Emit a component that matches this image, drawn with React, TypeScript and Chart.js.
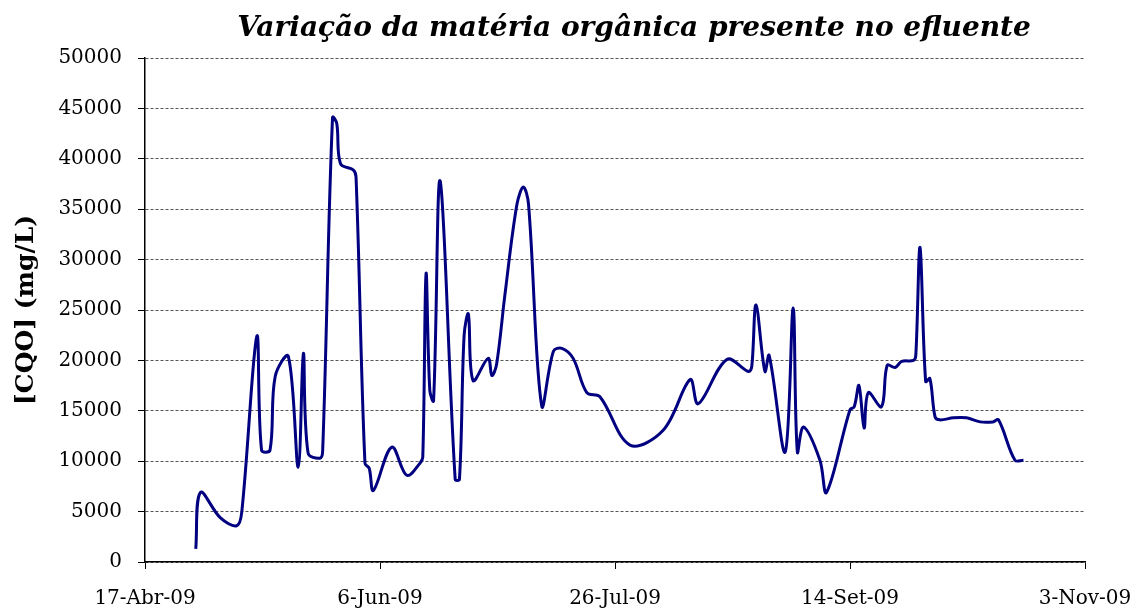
import React, { useEffect, useRef } from "react";
import { Chart, registerables } from "chart.js";

Chart.register(...registerables);

// Days elapsed since 17-Abr-09
const dayOffsets = [
  10.8, 11.8, 16, 19.5, 20.6, 23.8, 24.8, 26.6, 27.7, 30.5, 32.6, 33.7, 34.7, 37.2, 37.8,
  39.9, 40.8, 41.6, 44.3, 44.9, 46.8, 47.7, 48.6, 52.5, 55.7, 58.5, 59.1, 59.8, 60.6, 61.4,
  62.8, 66.0, 66.9, 67.9, 68.8, 69.8, 73.0, 73.8, 74.8, 76.6, 79.1, 80.5, 81.6, 84.4, 86.9,
  88.7, 91.1, 94.0, 96.8, 103.2, 110.3, 116.0, 117.7, 123.8, 128.4, 129.1, 130.0, 131.9, 132.8,
  136.2, 137.9, 138.8, 140.1, 143.6, 145.0, 150.0, 150.9, 151.9, 153.0, 153.9, 156.7, 157.9,
  159.6, 161.0, 163.5, 164.0, 164.9, 166.1, 167.0, 168.1, 169.1, 172.0, 174.8, 177.7, 180.4,
  181.6, 185.1, 186.9,
];

// [CQO] (mg/L)
const cqoValues = [
  1300, 6900, 4400, 3600, 5000, 22400, 11100, 11100, 18400, 20400, 9400, 20700, 10800, 10300, 11000,
  44100, 43500, 39500, 38900, 38200, 9800, 9300, 7100, 11400, 8600, 9800, 10400, 28600, 17000, 16000,
  37800, 8200, 8200, 22500, 24600, 18000, 20200, 18500, 19600, 26600, 35400, 37200, 35500, 15500, 20900,
  21200, 20200, 16800, 16400, 11600, 13100, 18100, 15700, 20100, 18900, 19400, 25500, 18900, 20500,
  10900, 25200, 10900, 13400, 10100, 6900, 15100, 15400, 17500, 13300, 16800, 15400, 19500,
  19300, 19900, 20000, 20500, 31200, 17900, 18200, 14400, 14100, 14300, 14300, 13900, 13900,
  14100, 10100, 10100,
];

const xTickValues = [0, 50, 100, 150, 200];
const xTickLabels = ["17-Abr-09", "6-Jun-09", "26-Jul-09", "14-Set-09", "3-Nov-09"];

const chartTitle = "Variação da matéria orgânica presente no efluente";
const yAxisTitle = "[CQO] (mg/L)";

const FONT = '"DejaVu Serif", serif';

const titlePlugin = {
  id: "customTitle",
  afterDraw(chart: any) {
    const ctx = chart.ctx;
    ctx.save();
    ctx.font = `italic bold 28px ${FONT}`;
    ctx.fillStyle = "#000";
    ctx.textAlign = "center";
    ctx.textBaseline = "middle";
    ctx.fillText(chartTitle, 634, 29);
    ctx.restore();
  },
};

export default function App() {
  const canvasRef = useRef<HTMLCanvasElement | null>(null);

  useEffect(() => {
    if (!canvasRef.current) return;
    const points = dayOffsets.map((d, i) => ({ x: d, y: cqoValues[i] }));
    const chart = new Chart(canvasRef.current, {
      type: "line",
      data: {
        datasets: [
          {
            data: points,
            borderColor: "#000080",
            borderWidth: 3,
            pointRadius: 0,
            tension: 0.35,
            fill: false,
          },
        ],
      },
      options: {
        animation: false,
        responsive: true,
        maintainAspectRatio: false,
        layout: { padding: { top: 58, right: 53, bottom: 0, left: 0 } },
        plugins: {
          legend: { display: false },
          tooltip: { enabled: false },
          title: { display: false },
        },
        scales: {
          x: {
            type: "linear",
            min: 0,
            max: 200,
            afterBuildTicks: (scale: any) => {
              scale.ticks = xTickValues.map((v) => ({ value: v }));
            },
            afterFit: (scale: any) => {
              scale.height = 46;
              scale.paddingLeft = 0;
              scale.paddingRight = 0;
            },
            ticks: {
              autoSkip: false,
              maxRotation: 0,
              padding: 18,
              color: "#000",
              font: { family: FONT, size: 20 },
              callback: (v: any) => {
                const i = xTickValues.indexOf(Number(v));
                return i >= 0 ? xTickLabels[i] : "";
              },
            },
            grid: {
              drawOnChartArea: false,
              drawTicks: true,
              tickLength: 7,
              tickColor: "#000",
              tickWidth: 1,
            },
            border: { display: true, color: "#000", width: 1.5 },
          },
          y: {
            min: 0,
            max: 50000,
            afterFit: (scale: any) => {
              scale.width = 145;
            },
            ticks: {
              stepSize: 5000,
              padding: 16,
              color: "#000",
              font: { family: FONT, size: 20 },
              callback: (v: any) => String(v),
            },
            grid: {
              color: "#555",
              lineWidth: 1,
              drawTicks: true,
              tickLength: 7,
              tickColor: "#000",
              tickBorderDash: [],
            },
            border: { display: true, color: "#000", width: 1.5, dash: [3, 2] },
            title: {
              display: true,
              text: yAxisTitle,
              color: "#000",
              font: { family: FONT, size: 25, weight: "bold" },
              padding: { top: 11, bottom: 0 },
            },
          },
        },
      },
      plugins: [titlePlugin],
    } as any);
    return () => chart.destroy();
  }, []);

  return (
    <div style={{ position: "fixed", left: 0, top: 0, width: 1138, height: 608, background: "#fff" }}>
      <canvas ref={canvasRef} />
    </div>
  );
}
